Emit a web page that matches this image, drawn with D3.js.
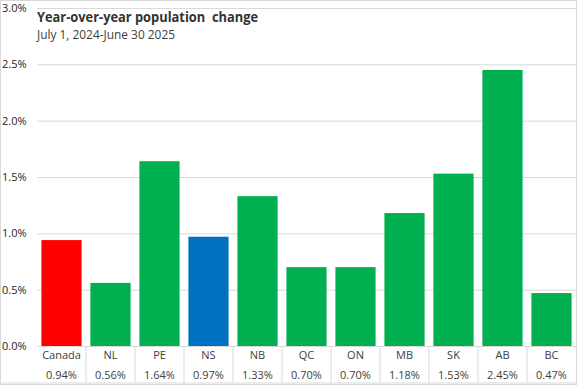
<!DOCTYPE html>
<html><head><meta charset="utf-8">
<script src="https://cdn.jsdelivr.net/npm/d3@7"></script>
<style>body{margin:0;background:#fff}svg{display:block}</style>
</head><body>
<script>
const categories = ["Canada","NL","PE","NS","NB","QC","ON","MB","SK","AB","BC"];
const values = [0.94,0.56,1.64,0.97,1.33,0.70,0.70,1.18,1.53,2.45,0.47];
const colors = ["#FF0000","#00B050","#00B050","#0070C0","#00B050","#00B050","#00B050","#00B050","#00B050","#00B050","#00B050"];
const yTicks = [0,0.5,1.0,1.5,2.0,2.5,3.0];
const title = "Year-over-year population  change";
const subtitle = "July 1, 2024-June 30 2025";

const W = 577, H = 385;
const pLeft = 37, pRight = 576, pTop = 8, pBottom = 346;
const svg = d3.select("body").append("svg").attr("width", W).attr("height", H)
  .style("font-family", "'Open Sans', sans-serif");

svg.append("rect").attr("x",0.5).attr("y",0.5).attr("width",W-1).attr("height",H-1)
  .attr("fill","#fff").attr("stroke","#d9d9d9");

const x = d3.scaleBand().domain(categories).range([pLeft, pRight]).paddingInner(0.18).paddingOuter(0.09);
const y = d3.scaleLinear().domain([0,3]).range([pBottom, pTop]);

const yAxis = d3.axisLeft(y).tickValues(yTicks).tickSize(-(pRight-pLeft)).tickFormat(d => d.toFixed(1) + "%");
const ga = svg.append("g").attr("transform", `translate(${pLeft},0)`).call(yAxis);
ga.select(".domain").remove();
ga.selectAll(".tick line").attr("stroke","#d9d9d9").attr("stroke-width",1);
ga.selectAll(".tick text").attr("x", -pLeft + 2).attr("text-anchor","start")
  .attr("fill","#262626").style("font-size","11px").style("font-family","'Open Sans', sans-serif");

svg.selectAll("rect.bar").data(values).join("rect").attr("class","bar")
  .attr("x",(d,i)=>x(categories[i])).attr("width",x.bandwidth())
  .attr("y",d=>y(d)).attr("height",d=>y(0)-y(d))
  .attr("fill",(d,i)=>colors[i]);

// title
svg.append("text").attr("x",37).attr("y",22).text(title)
  .attr("fill","#333").style("font-size","15px").style("font-weight","bold")
  .attr("textLength",221).attr("lengthAdjust","spacingAndGlyphs")
  .style("white-space","pre").attr("xml:space","preserve");
svg.append("text").attr("x",37).attr("y",39).text(subtitle)
  .attr("fill","#404040").style("font-size","12px")
  .attr("textLength",138).attr("lengthAdjust","spacingAndGlyphs");

// table
const step = x.step();
const colLeft = c => x(c) - x.paddingInner()*step/2;
const tbl = svg.append("g");
categories.forEach((c,i)=>{
  if (i>0) tbl.append("line").attr("x1",colLeft(c)).attr("x2",colLeft(c)).attr("y1",pBottom).attr("y2",383)
    .attr("stroke","#d9d9d9");
});
tbl.append("line").attr("x1",0).attr("x2",W).attr("y1",383).attr("y2",383).attr("stroke","#d9d9d9");
tbl.selectAll("text.cat").data(categories).join("text").attr("class","cat")
  .attr("x",c=>x(c)+x.bandwidth()/2).attr("y",359).attr("text-anchor","middle")
  .attr("fill","#404040").style("font-size","11px").text(c=>c);
tbl.selectAll("text.val").data(values).join("text").attr("class","val")
  .attr("x",(d,i)=>x(categories[i])+x.bandwidth()/2).attr("y",379).attr("text-anchor","middle")
  .attr("fill","#404040").style("font-size","11px").text(d=>d.toFixed(2)+"%");
</script>
</body></html>
